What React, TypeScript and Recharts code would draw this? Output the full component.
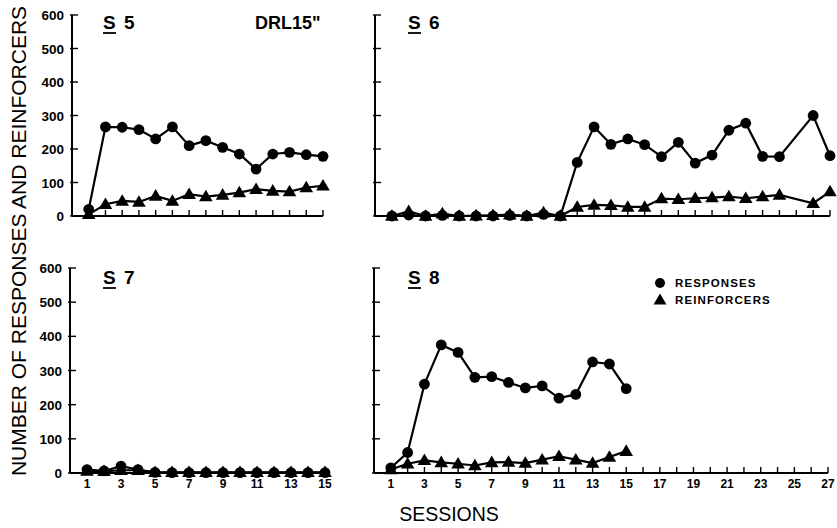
import { LineChart, Line, XAxis, YAxis } from "recharts";

const sessions15 = [1, 2, 3, 4, 5, 6, 7, 8, 9, 10, 11, 12, 13, 14, 15];
const sessions27 = [
  1, 2, 3, 4, 5, 6, 7, 8, 9, 10, 11, 12, 13, 14, 15, 16, 17, 18, 19, 20, 21,
  22, 23, 24, 25, 26, 27,
];
const yTicks = [0, 100, 200, 300, 400, 500, 600];

// S 5
const s5Responses = [20, 266, 265, 258, 230, 266, 210, 225, 205, 185, 140, 185, 190, 183, 178];
const s5Reinforcers = [5, 35, 45, 42, 60, 45, 65, 58, 63, 70, 80, 75, 73, 85, 90];

// S 6 (session 25 missing)
const s6Responses = [
  0, 3, 0, 2, 0, 0, 0, 2, 0, 5, 0, 160, 266, 214, 230, 213, 177, 220, 158, 182,
  256, 277, 178, 177, null, 300, 180,
];
const s6Reinforcers = [
  0, 14, 0, 7, 0, 1, 2, 4, 0, 10, 0, 27, 33, 32, 27, 27, 52, 50, 53, 55, 58,
  53, 58, 63, null, 38, 73,
];

// S 7
const s7Responses = [10, 6, 20, 10, 2, 1, 1, 1, 1, 1, 1, 1, 1, 1, 1];
const s7Reinforcers = [6, 5, 8, 8, 2, 2, 2, 2, 2, 2, 2, 2, 2, 2, 2];

// S 8
const s8Responses = [15, 60, 260, 375, 353, 280, 282, 265, 249, 255, 219, 230, 325, 319, 247];
const s8Reinforcers = [10, 27, 37, 31, 27, 22, 31, 32, 29, 39, 49, 39, 29, 47, 64];

const FONT = "'Liberation Sans', Arial, sans-serif";

const toRows = (s: number[], r: (number | null)[], f: (number | null)[]) =>
  s.map((x, i) => ({ session: x, responses: r[i], reinforcers: f[i] }));

const CircleDot = (props: any) => {
  const { cx, cy, index } = props;
  if (cx == null || cy == null) return <g key={"c" + index} />;
  return <circle key={"c" + index} cx={cx} cy={cy} r={5.4} fill="#000" />;
};

const TriangleDot = (props: any) => {
  const { cx, cy, index } = props;
  if (cx == null || cy == null) return <g key={"t" + index} />;
  const s = 6.8;
  return (
    <polygon
      key={"t" + index}
      points={`${cx},${cy - s} ${cx - s},${cy + s * 0.7} ${cx + s},${cy + s * 0.7}`}
      fill="#000"
    />
  );
};

const makeXTick = (labels: boolean) => (props: any) => {
  const { x, y, payload } = props;
  const v = payload.value;
  return (
    <g>
      <line x1={x} x2={x} y1={y} y2={y - 6} stroke="#000" strokeWidth={1.4} />
      {labels && v % 2 === 1 && (
        <text x={x} y={y + 15} textAnchor="middle" fontFamily={FONT} fontSize={12} fontWeight={700} fill="#000">
          {v}
        </text>
      )}
    </g>
  );
};

const makeYTick = (labels: boolean) => (props: any) => {
  const { x, y, payload } = props;
  return (
    <g>
      <line x1={x - 2} x2={x + 6} y1={y} y2={y} stroke="#000" strokeWidth={1.4} />
      {labels && (
        <text x={x - 8} y={y + 5} textAnchor="end" fontFamily={FONT} fontSize={13.5} fontWeight={700} fill="#000">
          {payload.value}
        </text>
      )}
    </g>
  );
};

interface PanelProps {
  left: number;
  top: number;
  width: number;
  height: number;
  yWidth: number;
  marginTop: number;
  marginRight: number;
  xHeight: number;
  maxSession: number;
  ticks: number[];
  data: any[];
  yLabels: boolean;
  xLabels: boolean;
}

function Panel(p: PanelProps) {
  return (
    <div style={{ position: "absolute", left: p.left, top: p.top }}>
      <LineChart
        width={p.width}
        height={p.height}
        data={p.data}
        margin={{ top: p.marginTop, right: p.marginRight, left: 0, bottom: 0 }}
      >
        <XAxis
          dataKey="session"
          type="number"
          domain={[0, p.maxSession]}
          ticks={p.ticks}
          interval={0}
          height={p.xHeight}
          axisLine={{ stroke: "#000", strokeWidth: 2 }}
          tickLine={false}
          tickSize={0}
          tickMargin={0}
          tick={makeXTick(p.xLabels)}
        />
        <YAxis
          type="number"
          domain={[0, 600]}
          ticks={yTicks}
          width={p.yWidth}
          axisLine={{ stroke: "#000", strokeWidth: 2 }}
          tickLine={false}
          tickSize={0}
          tickMargin={0}
          tick={makeYTick(p.yLabels)}
        />
        <Line
          type="linear"
          dataKey="responses"
          stroke="#000"
          strokeWidth={2.2}
          dot={CircleDot}
          connectNulls
          isAnimationActive={false}
        />
        <Line
          type="linear"
          dataKey="reinforcers"
          stroke="#000"
          strokeWidth={2.2}
          dot={TriangleDot}
          connectNulls
          isAnimationActive={false}
        />
      </LineChart>
    </div>
  );
}

function Title({ x, y, n }: { x: number; y: number; n: string }) {
  return (
    <g fontFamily={FONT} fontWeight={700} fontSize={19} fill="#000">
      <text x={x} y={y}>S</text>
      <line x1={x} x2={x + 13} y1={y + 4} y2={y + 4} stroke="#000" strokeWidth={1.8} />
      <text x={x + 21} y={y}>{n}</text>
    </g>
  );
}

export default function App() {
  return (
    <div style={{ position: "absolute", left: 0, top: 0, width: 837, height: 528, background: "#fff" }}>
      <Panel
        left={0} top={0} width={340} height={230} yWidth={72} marginTop={15} marginRight={17}
        xHeight={14} maxSession={15} ticks={sessions15}
        data={toRows(sessions15, s5Responses, s5Reinforcers)} yLabels xLabels={false}
      />
      <Panel
        left={360} top={0} width={477} height={230} yWidth={15} marginTop={15} marginRight={7}
        xHeight={14} maxSession={27} ticks={sessions27}
        data={toRows(sessions27, s6Responses, s6Reinforcers)} yLabels={false} xLabels={false}
      />
      <Panel
        left={0} top={250} width={337} height={243} yWidth={70} marginTop={18} marginRight={12}
        xHeight={20} maxSession={15} ticks={sessions15}
        data={toRows(sessions15, s7Responses, s7Reinforcers)} yLabels xLabels
      />
      <Panel
        left={360} top={250} width={477} height={243} yWidth={14} marginTop={18} marginRight={9}
        xHeight={20} maxSession={27} ticks={sessions27}
        data={toRows(sessions15, s8Responses, s8Reinforcers)} yLabels={false} xLabels
      />
      <svg
        width={837}
        height={528}
        style={{ position: "absolute", left: 0, top: 0, pointerEvents: "none" }}
      >
        <Title x={103} y={29} n="5" />
        <text x={255} y={29} fontFamily={FONT} fontSize={18} fontWeight={600} fill="#000">
          DRL15"
        </text>
        <Title x={408} y={29} n="6" />
        <Title x={103} y={284} n="7" />
        <Title x={408} y={284} n="8" />

        <circle cx={660} cy={283} r={5} fill="#000" />
        <text x={675} y={287} fontFamily={FONT} fontSize={11.5} fontWeight={600} letterSpacing={1.1} fill="#000">
          RESPONSES
        </text>
        <polygon points="660,293.5 653.5,304.5 666.5,304.5" fill="#000" />
        <text x={675} y={304} fontFamily={FONT} fontSize={11.5} fontWeight={600} letterSpacing={1.1} fill="#000">
          REINFORCERS
        </text>

        <text
          transform="translate(26,241) rotate(-90)"
          textAnchor="middle"
          fontFamily={FONT}
          fontSize={21}
          fill="#000"
        >
          NUMBER OF RESPONSES AND REINFORCERS
        </text>
        <text x={449} y={521} textAnchor="middle" fontFamily={FONT} fontSize={19.5} fill="#000">
          SESSIONS
        </text>
      </svg>
    </div>
  );
}
